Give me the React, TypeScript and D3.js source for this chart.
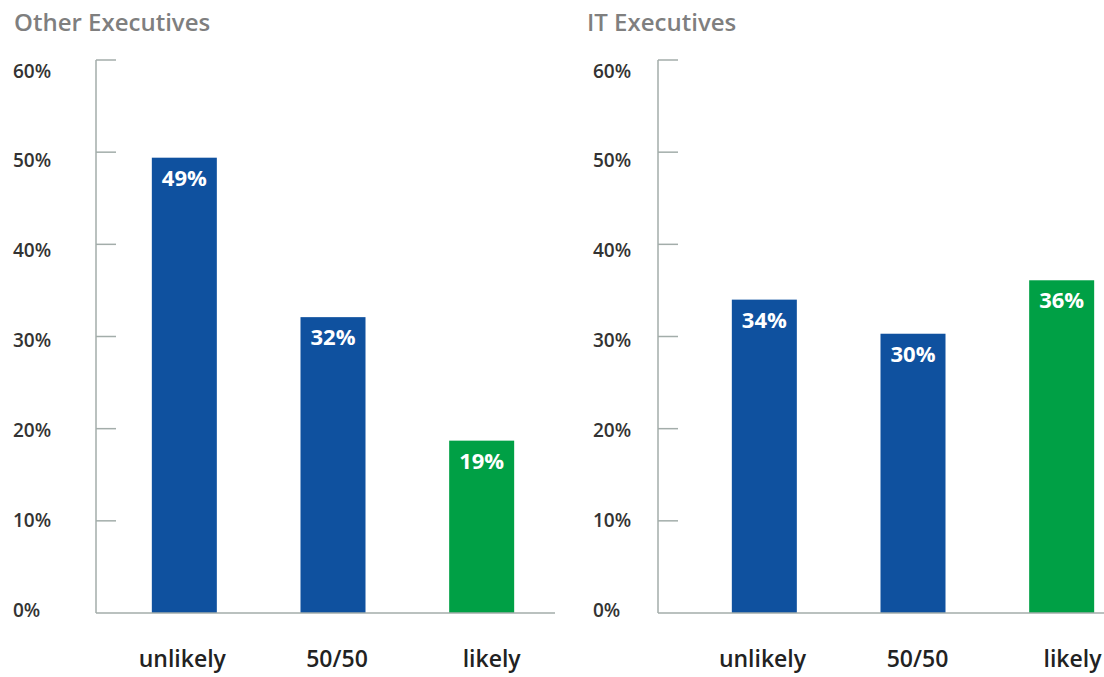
import React from "react";
import * as d3 from "d3";

const categories = ["unlikely", "50/50", "likely"];
const otherValues = [49.4, 32.1, 18.7];
const itValues = [34.0, 30.3, 36.1];
const panelTitles = ["Other Executives", "IT Executives"];
const tickValues = [0, 10, 20, 30, 40, 50, 60];
const barColors = ["#0f519f", "#0f519f", "#00a045"];

const W = 1104;
const H = 677;
const FONT = "'Open Sans', 'DejaVu Sans', sans-serif";

const y = d3.scaleLinear().domain([0, 60]).range([613, 60]);
const yLabel = d3.scaleLinear().domain([0, 60]).range([610, 71]);

type PanelProps = {
  title: string;
  values: number[];
  titleX: number;
  labelX: number;
  axisX: number;
  baseEnd: number;
  bandRange: [number, number];
  catRange: [number, number];
};

function Panel({ title, values, titleX, labelX, axisX, baseEnd, bandRange, catRange }: PanelProps) {
  const x = d3.scaleBand<string>().domain(categories).range(bandRange).padding(0);
  const xc = d3.scaleBand<string>().domain(categories).range(catRange).padding(0);
  const barW = 65;
  const axisColor = "#a3adaa";
  return (
    <g>
      <text x={titleX} y={31} fontFamily={FONT} fontSize={24} fontWeight={600} fill="#7f7f7f">
        {title}
      </text>
      {tickValues.map((t) => (
        <text
          key={"l" + t}
          x={labelX}
          y={yLabel(t)}
          dy="0.35em"
          fontFamily={FONT}
          fontSize={19}
          fontWeight={600}
          fill="#333333"
        >
          {t + "%"}
        </text>
      ))}
      <line x1={axisX} x2={axisX} y1={y(60)} y2={y(0)} stroke={axisColor} strokeWidth={1.5} />
      {tickValues
        .filter((t) => t > 0)
        .map((t) => (
          <line
            key={"t" + t}
            x1={axisX}
            x2={axisX + 20}
            y1={y(t)}
            y2={y(t)}
            stroke={axisColor}
            strokeWidth={1.5}
          />
        ))}
      {categories.map((c, i) => {
        const cx = (x(c) as number) + x.bandwidth() / 2;
        const lx = (xc(c) as number) + xc.bandwidth() / 2;
        return (
          <g key={c}>
            <rect x={cx - barW / 2} y={y(values[i])} width={barW} height={y(0) - y(values[i])} fill={barColors[i]} />
            <text
              x={cx}
              y={y(values[i]) + 28}
              textAnchor="middle"
              fontFamily={FONT}
              fontSize={22}
              fontWeight={700}
              fill="#ffffff"
            >
              {Math.round(values[i]) + "%"}
            </text>
            <text
              x={lx}
              y={667}
              textAnchor="middle"
              fontFamily={FONT}
              fontSize={23}
              fontWeight={600}
              fill="#222222"
            >
              {c}
            </text>
          </g>
        );
      })}
      <line x1={axisX} x2={baseEnd} y1={y(0)} y2={y(0)} stroke={axisColor} strokeWidth={1.5} />
    </g>
  );
}

export default function App() {
  return (
    <svg width={W} height={H} style={{ position: "absolute", left: 0, top: 0, background: "#ffffff" }}>
      <rect x={0} y={0} width={W} height={H} fill="#ffffff" />
      <Panel
        title={panelTitles[0]}
        values={otherValues}
        titleX={14}
        labelX={13}
        axisX={96}
        baseEnd={555}
        bandRange={[110, 556]}
        catRange={[105, 569]}
      />
      <Panel
        title={panelTitles[1]}
        values={itValues}
        titleX={587}
        labelX={593}
        axisX={658}
        baseEnd={1104}
        bandRange={[690, 1136]}
        catRange={[685, 1150]}
      />
    </svg>
  );
}
